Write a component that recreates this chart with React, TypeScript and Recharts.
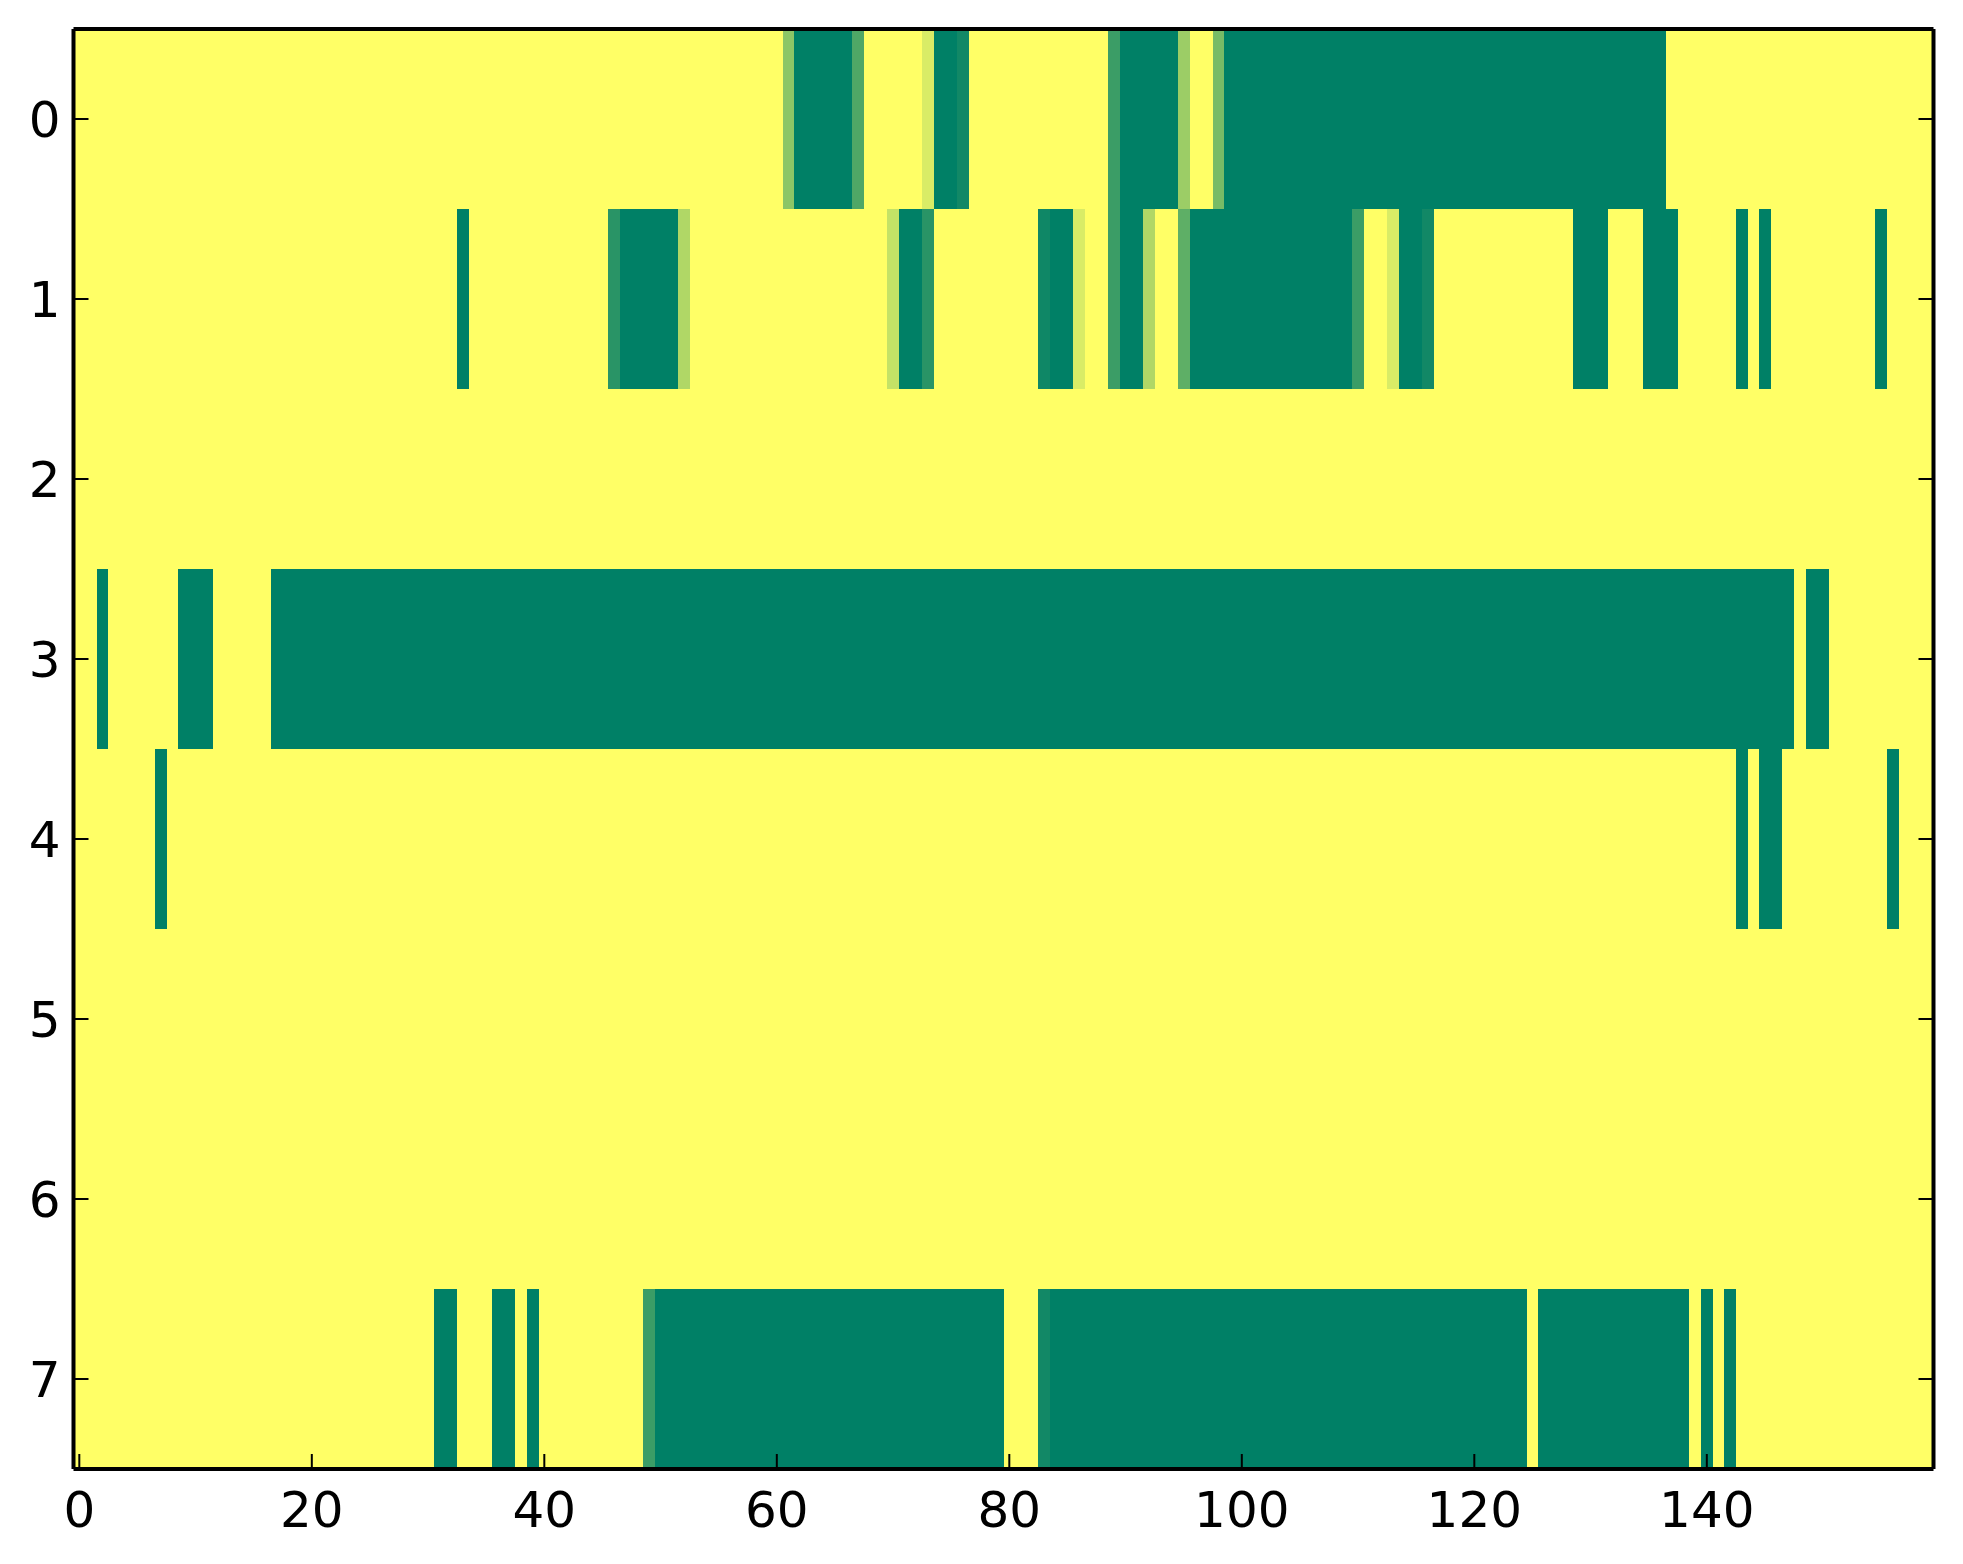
import React from 'react';
import { ComposedChart, XAxis, YAxis, ReferenceArea } from 'recharts';

type Seg = [number, number, number];

const COLS = 160;
const rowIds = [0, 1, 2, 3, 4, 5, 6, 7];
const xTicks = [0, 20, 40, 60, 80, 100, 120, 140];

// [first column, last column, value]; cells not listed are 1 (yellow)
const row0: Seg[] = [
  [61, 61, 0.55], [62, 66, 0], [67, 67, 0.31], [73, 73, 0.85], [74, 75, 0], [76, 76, 0.07],
  [89, 89, 0.23], [90, 94, 0], [95, 95, 0.61], [98, 98, 0.47], [99, 136, 0],
];
const row1: Seg[] = [
  [33, 33, 0], [46, 46, 0.16], [47, 51, 0], [52, 52, 0.69], [70, 70, 0.77], [71, 72, 0],
  [73, 73, 0.16], [83, 83, 0.06], [84, 85, 0], [86, 86, 0.85], [89, 89, 0.23], [90, 91, 0],
  [92, 92, 0.69], [95, 95, 0.37], [96, 109, 0], [110, 110, 0.23], [113, 113, 0.85],
  [114, 115, 0], [116, 116, 0.07], [129, 131, 0], [135, 137, 0], [143, 143, 0],
  [145, 145, 0], [155, 155, 0],
];
const row2: Seg[] = [];
const row3: Seg[] = [[2, 2, 0], [9, 11, 0], [17, 147, 0], [149, 150, 0]];
const row4: Seg[] = [[7, 7, 0], [143, 143, 0], [145, 146, 0], [156, 156, 0]];
const row5: Seg[] = [];
const row6: Seg[] = [];
const row7: Seg[] = [
  [31, 32, 0], [36, 37, 0], [39, 39, 0], [49, 49, 0.23], [50, 79, 0], [83, 83, 0.07],
  [84, 124, 0], [126, 138, 0], [140, 140, 0], [142, 142, 0],
];

const rows = [row0, row1, row2, row3, row4, row5, row6, row7];

// matplotlib "summer" colormap
const summer = (v: number) => {
  const r = Math.round(255 * v);
  const g = Math.round(255 * (0.5 + 0.5 * v));
  const b = Math.round(255 * 0.4);
  return `rgb(${r},${g},${b})`;
};

// expand each row to cells, then merge equal neighbours into runs
const runs = rows.flatMap((segs, row) => {
  const vals: number[] = new Array(COLS).fill(1);
  segs.forEach(([a, b, v]) => {
    for (let c = a; c <= b; c++) vals[c] = v;
  });
  const out: { row: number; from: number; to: number; v: number }[] = [];
  let start = 0;
  for (let c = 1; c <= COLS; c++) {
    if (c === COLS || vals[c] !== vals[start]) {
      out.push({ row, from: start, to: c - 1, v: vals[start] });
      start = c;
    }
  }
  return out;
});

const tickFont = { fontSize: 50, fill: '#000', fontFamily: 'DejaVu Sans' };
const axisLine = { stroke: '#000', strokeWidth: 4 };
const tickLine = { stroke: '#000', strokeWidth: 2 };
const noLabel = () => <g />;

export default function App() {
  return (
    <div style={{ width: 1947, height: 1548 }}>
      <style>{'.recharts-reference-area-rect{shape-rendering:crispEdges}'}</style>
      <ComposedChart width={1947} height={1548} margin={{ top: 0, right: 0, bottom: 0, left: 0 }}>
        {runs.map((r, i) => (
          <ReferenceArea
            key={i}
            x1={r.from - 0.5}
            x2={r.to + 0.5}
            y1={r.row - 0.5}
            y2={r.row + 0.5}
            fill={summer(r.v)}
            fillOpacity={1}
            stroke="none"
            ifOverflow="visible"
            zIndex={-10}
          />
        ))}
        <XAxis
          type="number"
          dataKey="x"
          domain={[-0.5, 159.5]}
          ticks={xTicks}
          allowDataOverflow
          height={87}
          tickSize={-15}
          tickMargin={37}
          tick={tickFont}
          axisLine={axisLine}
          tickLine={tickLine}
        />
        <XAxis
          xAxisId="top"
          orientation="top"
          type="number"
          domain={[-0.5, 159.5]}
          ticks={xTicks}
          allowDataOverflow
          height={21}
          tickSize={-15}
          tick={noLabel}
          axisLine={axisLine}
          tickLine={tickLine}
        />
        <YAxis
          type="number"
          dataKey="y"
          domain={[-0.5, 7.5]}
          ticks={rowIds}
          reversed
          allowDataOverflow
          width={65.5}
          tickSize={-15}
          tickMargin={28}
          tick={tickFont}
          axisLine={axisLine}
          tickLine={tickLine}
        />
        <YAxis
          yAxisId="right"
          orientation="right"
          type="number"
          domain={[-0.5, 7.5]}
          ticks={rowIds}
          reversed
          allowDataOverflow
          width={21.5}
          tickSize={-15}
          tick={noLabel}
          axisLine={axisLine}
          tickLine={tickLine}
        />
      </ComposedChart>
    </div>
  );
}
